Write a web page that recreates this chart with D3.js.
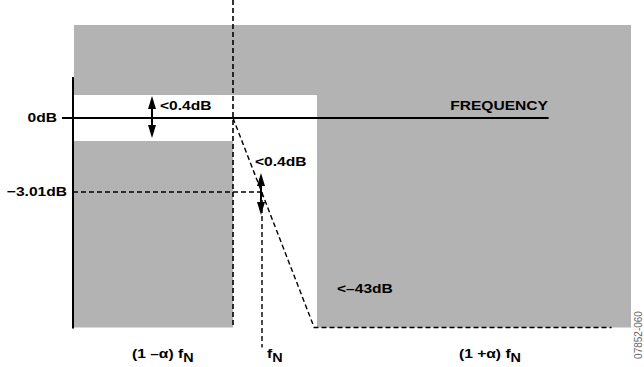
<!DOCTYPE html>
<html>
<head>
<meta charset="utf-8">
<script src="https://cdn.jsdelivr.net/npm/d3@7"></script>
<style>
  body { margin: 0; background: #fff; }
  svg text { font-family: "Liberation Sans", Arial, sans-serif; font-weight: bold; fill: #000; }
</style>
</head>
<body>
<svg id="chart" width="644" height="367"></svg>
<script>
// frequency in units of fN, alpha = excess bandwidth (schematic)
const alpha = 0.3;
const freqKnots = [0, 1 - alpha, 1, 1 + alpha, 2.6];
const dbKnots   = [2, 0.4, 0, -0.4, -3.01, -43];
const passRipple = 0.4;
const stopAtten  = -43;
const freqAxisEnd = 2.26;
const stopLineEnd = 2.52;

const levelLabels = [
    { db: 0,     text: "0dB" },
    { db: -3.01, text: "\u22123.01dB" }
];
const freqLabels = [
    { f: 1 - alpha, main: "(1 \u2013\u03b1) f", sub: "N" },
    { f: 1,         main: "f",              sub: "N" },
    { f: 1 + alpha, main: "(1 +\u03b1) f",  sub: "N" }
];

let svg = d3.select("#chart");

let x = d3.scaleLinear()
            .domain(freqKnots)
            .range([73, 233, 262, 316, 631]);
let y = d3.scaleLinear()
            .domain(dbKnots)
            .range([25, 95, 118, 141, 192, 327.5]);

let gray = "#b3b3b3";
let fMax = freqKnots[freqKnots.length - 1];

// forbidden regions of the mask
let masks = [
    { f0: 0,         f1: fMax, top: dbKnots[0],  bot: passRipple },
    { f0: 0,         f1: 1 - alpha, top: -passRipple, bot: stopAtten },
    { f0: 1 + alpha, f1: fMax, top: dbKnots[0],  bot: stopAtten }
];
svg.append("g").selectAll("rect")
    .data(masks)
    .enter().append("rect")
        .attr("x", d => x(d.f0) + 1)
        .attr("y", d => y(d.top))
        .attr("width", d => x(d.f1) - x(d.f0) - 1)
        .attr("height", d => y(d.bot) - y(d.top))
        .attr("fill", gray);

let dash = "5,3";
let lines = svg.append("g").attr("fill", "none").attr("stroke", "#000");

// passband edge dashed vertical
lines.append("line")
    .attr("x1", x(1 - alpha)).attr("x2", x(1 - alpha))
    .attr("y1", 0).attr("y2", y(stopAtten))
    .attr("stroke-width", 1.6).attr("stroke-dasharray", dash);

// -3.01dB dashed and fN dashed
lines.append("line")
    .attr("x1", x(0)).attr("x2", x(1))
    .attr("y1", y(-3.01)).attr("y2", y(-3.01))
    .attr("stroke-width", 1.4).attr("stroke-dasharray", dash);
lines.append("line")
    .attr("x1", x(1)).attr("x2", x(1))
    .attr("y1", y(-3.01)).attr("y2", y(stopAtten) + 20)
    .attr("stroke-width", 1.4).attr("stroke-dasharray", dash);

// transition slope and stopband floor
let slope = d3.line().x(d => x(d[0])).y(d => y(d[1]));
lines.append("path")
    .attr("d", slope([[1 - alpha, 0], [1.29, stopAtten], [stopLineEnd, stopAtten]]))
    .attr("stroke-width", 1.4).attr("stroke-dasharray", dash);

// axes
lines.append("line")
    .attr("x1", x(0)).attr("x2", x(0))
    .attr("y1", 77).attr("y2", y(stopAtten) + 1)
    .attr("stroke-width", 2);
lines.append("line")
    .attr("x1", x(0) - 11).attr("x2", x(freqAxisEnd))
    .attr("y1", y(0)).attr("y2", y(0))
    .attr("stroke-width", 2);

// double arrows
function dblArrow(cx, yTop, yBot) {
    let g = svg.append("g");
    let hw = 4, hl = 13;
    g.append("line")
        .attr("x1", cx).attr("x2", cx)
        .attr("y1", yTop + 4).attr("y2", yBot - 4)
        .attr("stroke", "#000").attr("stroke-width", 2);
    g.append("path")
        .attr("d", `M${cx},${yTop} L${cx - hw},${yTop + hl} L${cx + hw},${yTop + hl} Z`)
        .attr("fill", "#000");
    g.append("path")
        .attr("d", `M${cx},${yBot} L${cx - hw},${yBot - hl} L${cx + hw},${yBot - hl} Z`)
        .attr("fill", "#000");
}
dblArrow(152, y(passRipple) + 1, y(-passRipple) - 3);
dblArrow(261, y(-3.01) - 19, y(-3.01) + 23);

// text, horizontally stretched like the original artwork
function label(px, py, txt, anchor) {
    let t = svg.append("text")
        .attr("transform", `translate(${px},${py}) scale(1.2,1)`)
        .attr("font-size", 13)
        .attr("text-anchor", anchor || "start");
    return t.text(txt);
}

levelLabels.forEach(d => label(d.db === 0 ? 57 : 67, y(d.db) + 4, d.text, "end"));

label(160, y(passRipple) + 15, "<0.4dB");
label(255, y(-3.01) - 26, "<0.4dB");
label(548, y(passRipple) + 15, "FREQUENCY", "end");
label(337, y(stopAtten) - 35, "<\u201343dB");

let fPos = [132, 267, 459];
freqLabels.forEach((d, i) => {
    let t = svg.append("text")
        .attr("transform", `translate(${fPos[i]},${y(stopAtten) + 30}) scale(1.2,1)`)
        .attr("font-size", 13);
    t.append("tspan").text(d.main);
    t.append("tspan").attr("dy", 4).attr("font-size", 12).text(d.sub);
});

svg.append("text")
    .attr("transform", "translate(642,335) rotate(-90)")
    .attr("text-anchor", "middle")
    .attr("font-size", 10)
    .style("font-weight", "normal")
    .style("fill", "#666")
    .text("07852-060");
</script>
</body>
</html>
